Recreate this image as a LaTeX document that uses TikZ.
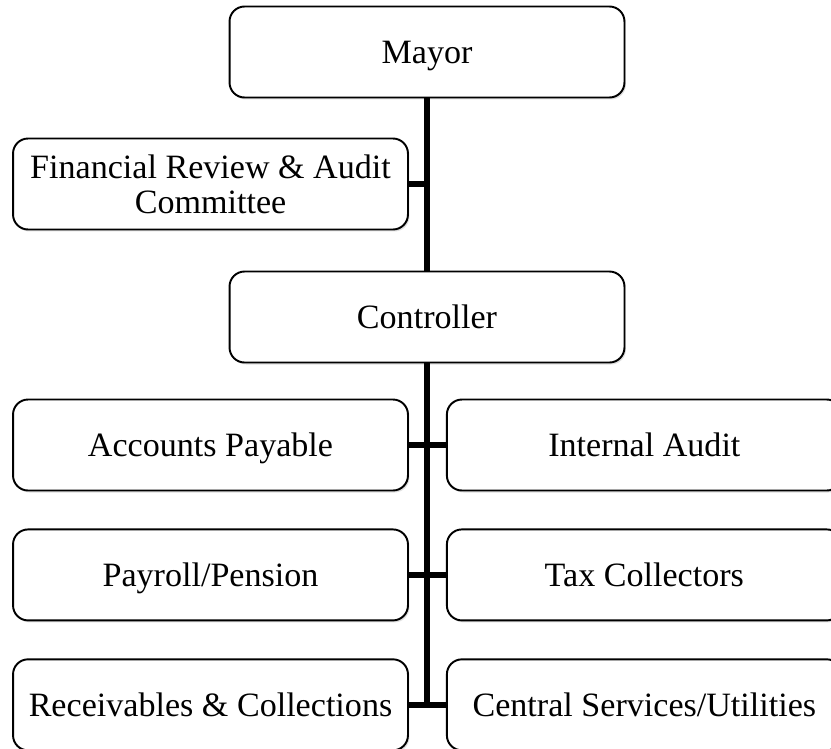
\documentclass[tikz,border=0pt]{standalone}
\usepackage{fontspec}
\setmainfont{Liberation Serif}
\usetikzlibrary{positioning,shadows}

\begin{document}
\begin{tikzpicture}[x=0.02cm, y=-0.02cm, node distance=0.74cm,
  orgbox/.style={draw, line width=1.1pt, rounded corners=0.3cm, fill=white,
    minimum width=7.9cm, minimum height=1.82cm, inner sep=0pt, align=center,
    font=\fontsize{19.4}{20}\selectfont,
    drop shadow={shadow xshift=0.03cm, shadow yshift=-0.04cm, opacity=0.25}},
  oneline/.style={orgbox, text height=12.8pt, text depth=0pt},
  trunk/.style={line width=3.4pt}]
  \useasboundingbox (0,0) rectangle (831,748);
  \clip (0,0) rectangle (831,748);

  \node[oneline] (mayor) at (427,52) {Mayor};
  \node[orgbox] (review) at (210.5,184) {Financial Review \& Audit\\Committee};
  \node[oneline] (controller) at (427,317) {Controller};

  \node[oneline] (payable) at (210.5,445) {Accounts Payable};
  \node[oneline, right=of payable] (audit) {Internal Audit};
  \node[oneline, below=of payable] (payroll) {Payroll/Pension};
  \node[oneline, right=of payroll] (tax) {Tax Collectors};
  \node[oneline, below=of payroll] (receivables) {Receivables \& Collections};
  \node[oneline, right=of receivables] (central) {Central Services/Utilities};

  \draw[trunk] (mayor.south) -- (controller.north);
  \draw[trunk] (review.east) -- (review.east -| mayor.south);
  \coordinate (trunkend) at (receivables.east -| controller.south);
  \draw[trunk, shorten >=-1.7pt] (controller.south) -- (trunkend);
  \foreach \left/\right in {payable/audit, payroll/tax, receivables/central}
    \draw[trunk] (\left.east) -- (\right.west);
\end{tikzpicture}
\end{document}
